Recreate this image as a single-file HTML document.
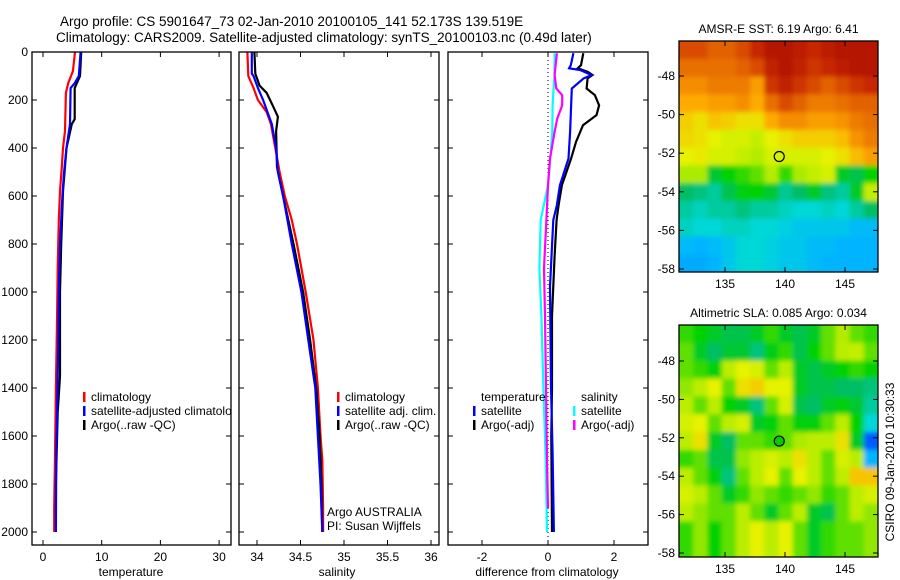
<!DOCTYPE html>
<html><head><meta charset="utf-8">
<style>
html,body{margin:0;padding:0;background:#fff;}
svg{display:block;font-family:"Liberation Sans",sans-serif;}
text{font-size:12px;fill:#000;}
</style></head>
<body>
<svg id="fig" width="900" height="580" viewBox="0 0 900 580" xmlns="http://www.w3.org/2000/svg">
<defs>
<clipPath id="c1"><rect x="32" y="52" width="199" height="493"/></clipPath>
<clipPath id="c2"><rect x="239" y="52" width="200" height="493"/></clipPath>
<clipPath id="c3"><rect x="448" y="52" width="200" height="493"/></clipPath>
<clipPath id="cm1"><rect x="679" y="41" width="199" height="231"/></clipPath>
<clipPath id="cm2"><rect x="679" y="325" width="199" height="232"/></clipPath>
<filter id="bl" filterUnits="userSpaceOnUse" x="600" y="0" width="300" height="580"><feGaussianBlur stdDeviation="2.5"/></filter>
</defs>
<text x="60" y="26" style="font-size:13.5px">Argo profile: CS 5901647_73 02-Jan-2010 20100105_141 52.173S 139.519E</text>
<text x="56" y="42" style="font-size:13.5px">Climatology: CARS2009. Satellite-adjusted climatology: synTS_20100103.nc (0.49d later)</text>
<g id="g"></g>
</svg>
<script>
// ---------- data ----------
const tClimDepth=[0,80,130,170,330,400,480,580,700,900,1100,1400,1600,1900,2000];
const tClimVal=[5.45,5.1,4.3,3.9,3.75,3.4,3.2,2.9,2.7,2.5,2.4,2.2,2.1,1.9,1.9];
const tSatDepth=[0,100,130,150,300,400,500,600,800,1000,1200,1500,1700,2000];
const tSatVal=[6.4,6.1,5.4,4.7,4.6,4.0,3.6,3.3,2.9,2.7,2.6,2.4,2.25,2.2];
const tArgoDepth=[0,100,150,280,300,400,580,800,1000,1350,1500,1800,2000];
const tArgoVal=[6.5,6.3,5.4,5.4,4.9,4.0,3.4,3.1,2.9,2.9,2.5,2.2,2.2];
const sClimDepth=[0,100,150,200,250,300,400,500,600,700,800,1000,1200,1400,1600,1700,1900,2000];
const sClimVal=[33.89,33.90,33.96,34.01,34.11,34.16,34.21,34.26,34.32,34.40,34.46,34.56,34.65,34.70,34.73,34.75,34.76,34.76];
const sSatDepth=[0,90,100,150,200,300,400,500,600,800,1000,1200,1400,1600,1800,2000];
const sSatVal=[33.94,33.94,33.96,34.01,34.07,34.17,34.22,34.24,34.30,34.40,34.51,34.59,34.67,34.70,34.73,34.75];
const sArgoDepth=[0,90,140,170,230,270,330,480,600,800,1000,1200,1400,1600,1800,2000];
const sArgoVal=[33.97,33.98,34.03,34.11,34.19,34.24,34.22,34.23,34.30,34.42,34.53,34.61,34.68,34.72,34.74,34.75];
const dTSatDepth=[5,55,68,75,96,110,152,333,444,555,638,700,978,1395,1673,2000];
const dTSatVal=[0.77,0.69,0.64,0.97,1.32,1.08,0.72,0.67,0.62,0.36,0.27,0.16,0.06,0.09,0.14,0.18];
const dTArgoDepth=[5,55,68,82,96,110,152,180,222,263,305,375,444,555,638,700,850,1100,1400,1600,2000];
const dTArgoVal=[1.07,1.0,0.9,1.2,1.35,1.2,1.17,1.42,1.55,1.47,1.06,0.85,0.7,0.42,0.32,0.26,0.2,0.12,0.12,0.1,0.12];
const dSSatDepth=[5,96,152,222,333,444,555,700,900,1100,1400,1700,2000];
const dSSatVal=[0.2,0.2,0.17,0.14,0.13,0.07,0.0,-0.22,-0.26,-0.2,-0.14,-0.07,-0.03];
const dSArgoDepth=[5,96,152,180,222,278,333,444,555,700,900,1100,1400,1700,1900];
const dSArgoVal=[0.27,0.2,0.25,0.43,0.43,0.28,0.2,0.06,0.0,-0.05,-0.12,-0.09,-0.06,-0.03,0.0];
const depthTicks=[0,200,400,600,800,1000,1200,1400,1600,1800,2000];
const tempTicks=[0,10,20,30];
const salTicks=[34,34.5,35,35.5,36];
const diffTicks=[-2,0,2];
const latTicks=[-48,-50,-52,-54,-56,-58];
const lonTicks=[135,140,145];
const sstGrid=[
[.85,.85,.82,.82,.85,.9,.95,.95,.93,.9,.93,.95,.95,.95],
[.8,.8,.8,.8,.82,.85,.92,.95,.92,.88,.9,.93,.95,.95],
[.75,.75,.78,.78,.78,.72,.88,.92,.88,.85,.82,.85,.88,.9],
[.7,.7,.72,.72,.75,.7,.8,.85,.82,.78,.78,.8,.82,.82],
[.66,.64,.67,.66,.64,.64,.7,.75,.75,.72,.72,.74,.78,.8],
[.65,.64,.62,.6,.6,.58,.62,.64,.66,.66,.66,.68,.74,.78],
[.62,.63,.6,.6,.58,.56,.6,.6,.6,.6,.62,.64,.68,.72],
[.55,.55,.44,.48,.5,.52,.56,.5,.55,.58,.6,.45,.42,.48],
[.4,.38,.35,.42,.47,.48,.44,.36,.4,.45,.38,.35,.45,.58],
[.35,.32,.35,.35,.38,.35,.35,.32,.3,.3,.32,.3,.35,.4],
[.32,.3,.3,.32,.32,.3,.3,.28,.25,.25,.25,.25,.22,.22],
[.22,.2,.22,.25,.3,.3,.28,.25,.25,.22,.22,.2,.2,.2],
[.18,.18,.2,.25,.3,.3,.28,.25,.25,.22,.2,.2,.2,.2]];
const slaGrid=[
[.5,.48,.45,.42,.42,.45,.5,.45,.42,.45,.52,.56,.52,.5],
[.52,.45,.4,.44,.44,.38,.46,.5,.42,.48,.52,.57,.58,.52],
[.52,.5,.47,.57,.62,.6,.52,.57,.45,.42,.45,.48,.5,.48],
[.54,.57,.62,.52,.64,.66,.62,.62,.45,.42,.42,.4,.4,.38],
[.57,.52,.57,.48,.45,.38,.52,.6,.42,.4,.45,.47,.44,.35],
[.6,.62,.52,.57,.6,.45,.47,.52,.47,.47,.52,.57,.48,.3],
[.57,.64,.45,.4,.52,.52,.5,.52,.55,.57,.57,.64,.45,.1],
[.5,.52,.42,.42,.54,.57,.6,.57,.64,.57,.52,.6,.57,.2],
[.57,.52,.47,.38,.52,.57,.62,.52,.62,.57,.52,.57,.67,.67],
[.6,.57,.52,.45,.5,.54,.52,.5,.52,.54,.5,.52,.57,.6],
[.57,.54,.52,.52,.57,.52,.45,.52,.57,.45,.42,.52,.57,.54],
[.5,.54,.48,.52,.57,.62,.57,.62,.52,.45,.5,.52,.52,.54],
[.5,.54,.48,.52,.57,.62,.57,.62,.52,.45,.5,.52,.52,.54]];
const argoLon=139.52, argoLat=-52.17;

// ---------- helpers ----------
const NS="http://www.w3.org/2000/svg";
const G=document.getElementById('g');
function mk(tag,attrs,parent){const e=document.createElementNS(NS,tag);for(const k in attrs)e.setAttribute(k,attrs[k]);(parent||G).appendChild(e);return e;}
const yD=d=>52+d*0.24;
const xT=v=>43+v*5.87;
const xS=v=>257+(v-34)*87;
const xDf=v=>548+v*33;

function axesFrame(x0,x1,y0,y1,name){
  const r=mk('rect',{x:x0,y:y0,width:x1-x0,height:y1-y0,fill:'none',stroke:'#000','stroke-width':1.3});
  
  
}
function xTicks(ticks,fx,y0,y1,labels,name){
  ticks.forEach(t=>{const x=fx(t);
    mk('line',{x1:x,y1:y1,x2:x,y2:y1-5,stroke:'#000'});
    mk('line',{x1:x,y1:y0,x2:x,y2:y0+5,stroke:'#000'});
    if(labels){const tx=mk('text',{x:x,y:y1+16,'text-anchor':'middle'});tx.textContent=String(t);
      
      }
  });
}
function yTicks(ticks,fy,x0,x1,labels,name){
  ticks.forEach(t=>{const y=fy(t);
    mk('line',{x1:x0,y1:y,x2:x0+5,y2:y,stroke:'#000'});
    mk('line',{x1:x1,y1:y,x2:x1-5,y2:y,stroke:'#000'});
    if(labels){const tx=mk('text',{x:x0-4,y:y+4,'text-anchor':'end'});tx.textContent=String(t);
      
      }
  });
}
function line(depths,vals,fx,color,clip,name){
  const pts=depths.map((d,i)=>fx(vals[i]).toFixed(1)+','+yD(d).toFixed(1)).join(' ');
  const p=mk('polyline',{points:pts,fill:'none',stroke:color,'stroke-width':2.2,'clip-path':'url(#'+clip+')'});
  
  
}
function legend(x,y,color,label,clip,name){
  mk('rect',{x:x,y:y-9,width:2.5,height:10,fill:color});
  const t=mk('text',{x:x+8,y:y,'clip-path':clip?'url(#'+clip+')':''});t.textContent=label;
  
  
}
function txt(x,y,s,name,extra){const t=mk('text',Object.assign({x:x,y:y},extra||{}));t.textContent=s;
  
  return t;}

// ---------- panel 1: temperature ----------
line(tClimDepth,tClimVal,xT,'#ff0000','c1','temp-climatology-line');
line(tArgoDepth,tArgoVal,xT,'#000000','c1','temp-argo-line');
line(tSatDepth,tSatVal,xT,'#0000ff','c1','temp-satellite-line');
axesFrame(32,231,52,545,'temperature-axes');
xTicks(tempTicks,xT,52,545,true,'temperature-x');
yTicks(depthTicks,yD,32,231,true,'depth-y');
txt(131,576,'temperature','temperature-axis-title',{'text-anchor':'middle'});
legend(83,401,'#ff0000','climatology','c1','legend-climatology');
legend(83,415,'#0000ff','satellite-adjusted climatology','c1','legend-satellite-adjusted');
legend(83,429,'#000000','Argo(..raw -QC)','c1','legend-argo');

// ---------- panel 2: salinity ----------
line(sClimDepth,sClimVal,xS,'#ff0000','c2','sal-climatology-line');
line(sArgoDepth,sArgoVal,xS,'#000000','c2','sal-argo-line');
line(sSatDepth,sSatVal,xS,'#0000ff','c2','sal-satellite-line');
axesFrame(239,439,52,545,'salinity-axes');
xTicks(salTicks,xS,52,545,true,'salinity-x');
yTicks(depthTicks,yD,239,439,false,'salinity-y');
txt(337,576,'salinity','salinity-axis-title',{'text-anchor':'middle'});
legend(337,401,'#ff0000','climatology','c2','legend-sal-climatology');
legend(337,415,'#0000ff','satellite adj. clim.','c2','legend-sal-satellite');
legend(337,429,'#000000','Argo(..raw -QC)','c2','legend-sal-argo');
txt(327,516,'Argo AUSTRALIA','argo-australia-label');
txt(327,530,'PI: Susan Wijffels','pi-label');

// ---------- panel 3: differences ----------
mk('line',{x1:548,y1:52,x2:548,y2:545,stroke:'#000','stroke-dasharray':'1,3'});
line(dSSatDepth,dSSatVal,xDf,'#00ffff','c3','diff-sal-satellite-line');
line(dSArgoDepth,dSArgoVal,xDf,'#ff00ff','c3','diff-sal-argo-line');
line(dTArgoDepth,dTArgoVal,xDf,'#000000','c3','diff-temp-argo-line');
line(dTSatDepth,dTSatVal,xDf,'#0000ff','c3','diff-temp-satellite-line');
axesFrame(448,648,52,545,'difference-axes');
xTicks(diffTicks,xDf,52,545,true,'difference-x');
yTicks(depthTicks,yD,448,648,false,'difference-y');
txt(547,576,'difference from climatology','difference-axis-title',{'text-anchor':'middle'});
txt(481,401,'temperature','legend-temperature-heading');
legend(473,415,'#0000ff','satellite',null,'legend-diff-temp-satellite');
legend(473,429,'#000000','Argo(-adj)',null,'legend-diff-temp-argo');
txt(581,401,'salinity','legend-salinity-heading');
legend(573,415,'#00ffff','satellite',null,'legend-diff-sal-satellite');
legend(573,429,'#ff00ff','Argo(-adj)',null,'legend-diff-sal-argo');

// ---------- maps ----------
const stops=[[0,[0,90,255]],[.2,[0,180,255]],[.3,[0,215,215]],[.4,[0,190,100]],[.48,[0,210,0]],[.55,[170,235,0]],[.62,[230,242,0]],[.7,[255,170,0]],[.8,[232,112,0]],[.9,[200,40,0]],[1,[160,0,0]]];
function cmap(v){
  if(v<=0.1){const a=v/0.1;return 'rgb('+[0,Math.round(20+70*a),Math.round(140+115*a)].join(',')+')';}
  for(let i=1;i<stops.length;i++){if(v<=stops[i][0]){const a=(v-stops[i-1][0])/(stops[i][0]-stops[i-1][0]);
    return 'rgb('+stops[i][1].map((c,k)=>Math.round(stops[i-1][1][k]+(c-stops[i-1][1][k])*a)).join(',')+')';}}
  return 'rgb(160,0,0)';
}
function drawMap(grid,x0,x1,y0,y1,latTopPx,latBotPx,clip,name,title,filled){
  const fx=l=>725+(l-135)*12;
  const fy=la=>latTopPx+(-48-la)*(latBotPx-latTopPx)/10;
  const g=mk('g',{'clip-path':'url(#'+clip+')'});
  
  
  const inner=mk('g',{filter:'url(#bl)'},g);
  const rows=grid.length, cols=grid[0].length;
  const cw=(x1-x0)/cols, ch=(y1-y0)/rows;
  grid.forEach((row,r)=>row.forEach((v,c)=>{
    const cell=mk('rect',{x:x0+c*cw-(c===0?8:0),y:y0+r*ch-(r===0?8:0),width:cw+0.5+(c===0||c===cols-1?8:0),height:ch+0.5+(r===0||r===rows-1?8:0),fill:cmap(v)},inner);
    
    
  }));
  const pin=mk('circle',{cx:fx(argoLon),cy:fy(argoLat),r:5,fill:filled?'#00cc00':'none',stroke:'#000','stroke-width':1.2});
  
  
  axesFrame(x0,x1,y0,y1,name+'-frame');
  xTicks(lonTicks,fx,y0,y1,true,name+'-lon');
  yTicks(latTicks,fy,x0,x1,true,name+'-lat');
  txt((x0+x1)/2,y0-8,title,name+'-title',{'text-anchor':'middle'});
}
drawMap(sstGrid,679,878,41,272,76,269,'cm1','sst-map','AMSR-E SST: 6.19 Argo: 6.41',false);
drawMap(slaGrid,679,878,325,557,361,553,'cm2','sla-map','Altimetric SLA: 0.085 Argo: 0.034',true);
txt(0,0,'CSIRO 09-Jan-2010 10:30:33','timestamp-label',{transform:'translate(894,462) rotate(-90)','text-anchor':'middle'});
</script>
</body></html>
